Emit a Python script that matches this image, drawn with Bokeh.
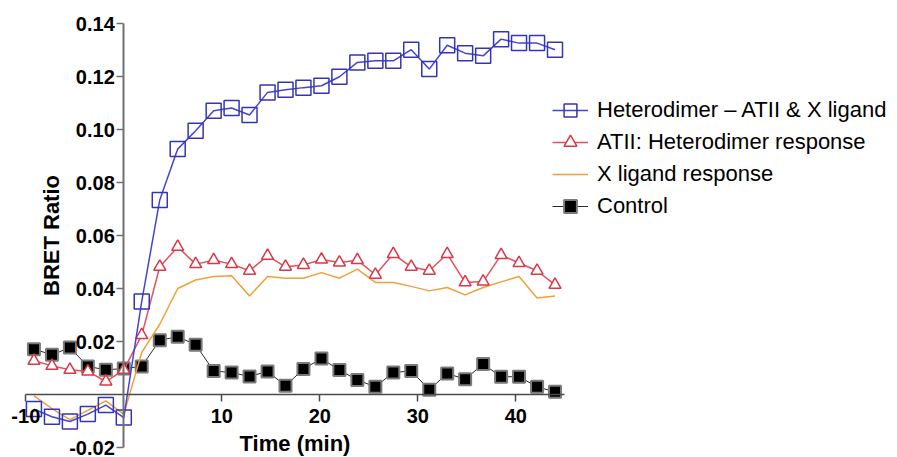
from bokeh.plotting import figure
from bokeh.models import ColumnDataSource, FixedTicker, Legend, LegendItem, Range1d
from bokeh.embed import file_html
from bokeh.resources import INLINE

# ---- data ----
time_min = [-9.17, -7.33, -5.5, -3.67, -1.83, 0.0, 1.83, 3.67, 5.5, 7.33,
            9.17, 11.0, 12.83, 14.67, 16.5, 18.33, 20.17, 22.0, 23.83, 25.67,
            27.5, 29.33, 31.17, 33.0, 34.83, 36.67, 38.5, 40.33, 42.17, 44.0]

heterodimer = [-0.0055, -0.0084, -0.0102, -0.0074, -0.0040, -0.0087, 0.0351, 0.0734, 0.0926, 0.0995,
               0.1071, 0.1081, 0.1055, 0.1140, 0.1150, 0.1158, 0.1165, 0.1199, 0.1253, 0.1259,
               0.1259, 0.1301, 0.1228, 0.1318, 0.1288, 0.1278, 0.1341, 0.1326, 0.1326, 0.1301]

atii_response = [0.0127, 0.0108, 0.0093, 0.0087, 0.0049, 0.0093, 0.0224, 0.0482, 0.0557, 0.0492,
                 0.0507, 0.0492, 0.0467, 0.0523, 0.0482, 0.0489, 0.0509, 0.0498, 0.0507, 0.0452,
                 0.0530, 0.0482, 0.0467, 0.0530, 0.0423, 0.0426, 0.0526, 0.0496, 0.0467, 0.0414]

x_ligand = [-0.0005, -0.0053, -0.0095, -0.0060, -0.0024, -0.0075, 0.0159, 0.0265, 0.0400, 0.0432,
            0.0445, 0.0448, 0.0372, 0.0445, 0.0439, 0.0439, 0.0460, 0.0439, 0.0473, 0.0423,
            0.0423, 0.0408, 0.0391, 0.0404, 0.0376, 0.0404, 0.0425, 0.0445, 0.0364, 0.0372]

control = [0.0171, 0.0150, 0.0177, 0.0106, 0.0093, 0.0098, 0.0106, 0.0205, 0.0218, 0.0188,
           0.0089, 0.0083, 0.0068, 0.0087, 0.0033, 0.0096, 0.0136, 0.0092, 0.0055, 0.0029,
           0.0083, 0.0089, 0.0018, 0.0079, 0.0058, 0.0115, 0.0067, 0.0067, 0.0029, 0.0010]

series_names = ["Heterodimer \u2013 ATII & X ligand", "ATII: Heterodimer response",
                "X ligand response", "Control"]

x_axis_span = (-10, 45)
y_axis_span = (-0.02, 0.14)
x_ticks = [-10, 10, 20, 30, 40]
x_tick_labels = ["-10", "10", "20", "30", "40"]
y_ticks = [-0.02, 0.02, 0.04, 0.06, 0.08, 0.10, 0.12, 0.14]
y_tick_labels = ["-0.02", "0.02", "0.04", "0.06", "0.08", "0.10", "0.12", "0.14"]

src = ColumnDataSource(dict(t=time_min, het=heterodimer, atii=atii_response,
                            xl=x_ligand, ctl=control))

FONT = "Liberation Sans"

# ---- layout: the frame covers the whole canvas; axes are drawn inside it ----
W, H = 897, 457
AX_LEFT_PX, AX_RIGHT_PX = 25.3, 564.3      # pixel positions of the x-axis ends
AX_TOP_PX, AX_BOTTOM_PX = 23.0, 447.0      # pixel positions of the y-axis ends
sx = (x_axis_span[1] - x_axis_span[0]) / (AX_RIGHT_PX - AX_LEFT_PX)
sy = (y_axis_span[1] - y_axis_span[0]) / (AX_BOTTOM_PX - AX_TOP_PX)
x_range = Range1d(x_axis_span[0] - AX_LEFT_PX * sx, x_axis_span[1] + (W - AX_RIGHT_PX) * sx)
y_range = Range1d(y_axis_span[0] - (H - AX_BOTTOM_PX) * sy, y_axis_span[1] + AX_TOP_PX * sy)

p = figure(width=W, height=H, output_backend="svg", toolbar_location=None,
           title=None, x_range=x_range, y_range=y_range,
           min_border_left=0, min_border_right=0, min_border_top=0, min_border_bottom=0)
p.outline_line_color = None
p.xgrid.visible = False
p.ygrid.visible = False
p.background_fill_color = "white"
p.border_fill_color = "white"

# axes crossing at 0
xa = p.xaxis[0]
ya = p.yaxis[0]
xa.fixed_location = 0
ya.fixed_location = 0
xa.bounds = x_axis_span
ya.bounds = y_axis_span
xa.ticker = FixedTicker(ticks=x_ticks)
ya.ticker = FixedTicker(ticks=y_ticks)
xa.major_label_overrides = {float(v): s for v, s in zip(x_ticks, x_tick_labels)}
ya.major_label_overrides = {v: s for v, s in zip(y_ticks, y_tick_labels)}
for ax in (xa, ya):
    ax.minor_tick_line_color = None
    ax.major_tick_in = 0
    ax.major_tick_out = 7
    ax.major_label_text_font = FONT
    ax.major_label_text_font_style = "bold"
    ax.major_label_text_font_size = "20px"
    ax.major_label_text_color = "black"
    ax.axis_label_text_font = FONT
    ax.axis_label_text_font_style = "bold"
    ax.axis_label_text_font_size = "22px"
    ax.axis_label_text_color = "black"
xa.axis_line_color = "#4a4a4a"
xa.major_tick_line_color = "#4a4a4a"
xa.axis_line_width = 1.5
xa.major_tick_line_width = 1.5
ya.axis_line_color = "#707070"
ya.major_tick_line_color = "#707070"
ya.axis_line_width = 2
ya.major_tick_line_width = 1.5
xa.axis_label = "Time (min)"
ya.axis_label = "BRET Ratio"
xa.major_label_standoff = 7
ya.major_label_standoff = 2
xa.axis_label_standoff = 5
ya.axis_label_standoff = 2

# series
c_line = p.line("t", "ctl", source=src, line_color="#2a2a2a", line_width=1)
c_mark = p.scatter("t", "ctl", source=src, marker="square", size=12,
                   fill_color="black", line_color="#7a7a7a", line_width=2)
o_line = p.line("t", "xl", source=src, line_color="#f0a038", line_width=1.5)
r_line = p.line("t", "atii", source=src, line_color="#e2505e", line_width=1.5)
r_mark = p.scatter("t", "atii", source=src, marker="triangle", size=12,
                   fill_color="white", line_color="#d83848", line_width=1.5)
b_line = p.line("t", "het", source=src, line_color="#4444d4", line_width=1.5)
b_mark = p.scatter("t", "het", source=src, marker="square", size=15,
                   fill_color=None, line_color="#3434b8", line_width=1.5)

legend = Legend(items=[
    LegendItem(label=series_names[0], renderers=[b_line, b_mark]),
    LegendItem(label=series_names[1], renderers=[r_line, r_mark]),
    LegendItem(label=series_names[2], renderers=[o_line]),
    LegendItem(label=series_names[3], renderers=[c_line, c_mark]),
], location=(552, 235))
legend.glyph_width = 36
legend.glyph_height = 32
legend.label_height = 32
legend.spacing = 0
legend.padding = 0
legend.margin = 0
legend.label_standoff = 9
legend.label_text_font = FONT
legend.label_text_font_size = "22px"
legend.label_text_color = "black"
legend.border_line_color = None
legend.background_fill_alpha = 0
p.add_layout(legend, "center")

open("out.html", "w").write(file_html(p, INLINE))
